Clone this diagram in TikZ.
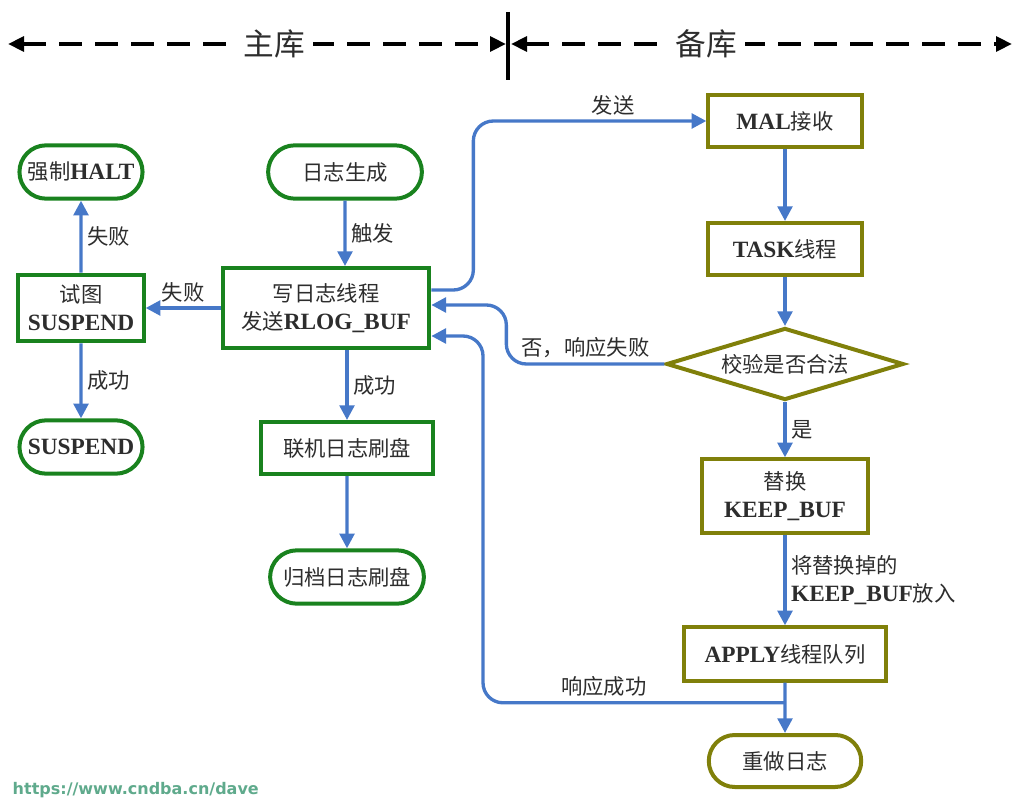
\documentclass[tikz,border=0pt]{standalone}
\usepackage{fontspec}
\setmainfont{Noto Sans CJK SC}
\newfontfamily\latinfont{Liberation Serif}
\newfontfamily\urlfont{DejaVu Sans}
\newcommand{\en}[1]{{\latinfont\bfseries\fontsize{17.5}{21}\selectfont #1}}
\usetikzlibrary{arrows.meta, shapes.geometric, shapes.misc, calc}
\definecolor{boxgreen}{RGB}{25,130,30}
\definecolor{boxolive}{RGB}{128,128,10}
\definecolor{flowblue}{RGB}{70,120,200}
\definecolor{textgray}{RGB}{45,45,45}
\definecolor{urlgreen}{RGB}{95,170,140}
\tikzset{
    every node/.style={text=textgray, font=\fontsize{16}{21}\selectfont, align=center}, % default text
    boxg/.style={draw=boxgreen, line width=3pt, minimum height=39pt}, % green rectangle
    pillg/.style={rounded rectangle, draw=boxgreen, line width=3pt, minimum width=99pt, minimum height=40pt}, % green terminal
    boxo/.style={draw=boxolive, line width=3pt, minimum width=115pt, minimum height=39pt}, % olive rectangle
    pillo/.style={rounded rectangle, draw=boxolive, line width=3pt, minimum width=121pt, minimum height=39pt}, % olive terminal
    diao/.style={diamond, draw=boxolive, line width=3pt, aspect=3.3, inner sep=0pt, minimum width=178pt, minimum height=54pt}, % test
    flow/.style={draw=flowblue, line width=2.5pt, -{Triangle[length=11pt, width=11pt]}}, % blue connectors
    sidearrow/.style={black, line width=3pt, dash pattern=on 17pt off 10pt, {Triangle[length=12pt, width=11pt]}-{Triangle[length=12pt, width=11pt]}}, % header arrows
    sidelbl/.style={fill=white, inner xsep=6pt, font=\fontsize{23}{26}\selectfont}, % header text
}

\begin{document}
\begin{tikzpicture}[x=0.75pt, y=-0.75pt]
    \useasboundingbox (0,0) rectangle (1021,806);
    % header
    \coordinate (hl) at (8,44);
    \coordinate (hml) at (506,44);
    \coordinate (hmr) at (511,44);
    \coordinate (hr) at (1012,44);
    \coordinate (dtop) at (508,12);
    \coordinate (dbot) at (508,80);
    \draw[black, line width=3pt] (dtop) -- (dbot);
    \draw[sidearrow] (hl) -- node[sidelbl, pos=0.535]{主库} (hml);
    \draw[sidearrow] (hmr) -- node[sidelbl, pos=0.39]{备库} (hr);
    % primary side
    \node[pillg] (halt) at (81,172) {强制\en{HALT}};
    \node[boxg, minimum width=94pt, minimum height=50pt] (try) at (81,308) {试图\\\en{SUSPEND}};
    \node[pillg] (susp) at (81,447) {\en{SUSPEND}};
    \node[pillg, minimum width=122pt] (gen) at (345,172) {日志生成};
    \node[boxg, minimum width=155pt, minimum height=60pt] (write) at (326,308) {写日志线程\\发送\en{RLOG\_BUF}};
    \node[boxg, minimum width=129pt] (online) at (347,448) {联机日志刷盘};
    \node[pillg, minimum width=122pt] (arch) at (347,577) {归档日志刷盘};
    % standby side
    \node[boxo] (mal) at (785,121) {\en{MAL}接收};
    \node[boxo] (task) at (785,249) {\en{TASK}线程};
    \node[diao] (check) at (785,364) {校验是否合法};
    \node[boxo, minimum width=124pt, minimum height=55pt] (swap) at (785,496) {替换\\\en{KEEP\_BUF}};
    \node[boxo, minimum width=152pt, minimum height=40pt] (apply) at (785,654) {\en{APPLY}线程队列};
    \node[pillo] (redo) at (785,761) {重做日志};
    \coordinate (join) at ($(apply.south)!0.4!(redo.north)$);
    % connectors
    \draw[flow] (gen) -- (gen |- write.north) node[midway, right] {触发};
    \draw[flow] (write) -- (try) node[midway, above] {失败};
    \draw[flow] (try) -- (halt) node[midway, right] {失败};
    \draw[flow] (try) -- (susp) node[midway, right] {成功};
    \draw[flow] (online |- write.south) -- (online) node[midway, right] {成功};
    \draw[flow] (online) -- (arch);
    \draw[flow, rounded corners=15pt] ([yshift=13.5pt]write.east) -| ($(mal.west)+(-233,0)$) -- node[pos=0.6, above] {发送} (mal.west);
    \draw[flow] (mal) -- (task);
    \draw[flow] (task) -- (check);
    \draw[flow, rounded corners=15pt] (check.west) -- node[above] {否，响应失败} ++(-158,0) |- ([yshift=2.25pt]write.east);
    \draw[flow] (check) -- (swap) node[midway, right] {是};
    \draw[flow] (swap) -- (apply) node[midway, right, align=left] {将替换掉的\\\en{KEEP\_BUF}放入};
    \draw[flow] (apply) -- (redo);
    \draw[flow, rounded corners=15pt] (join) -- node[pos=0.6, above] {响应成功} ++(-302,0) |- ([yshift=-21pt]write.east);
    % watermark
    \node[anchor=west, text=urlgreen, font=\urlfont\bfseries\fontsize{12}{14}\selectfont] (url) at (8,790) {https://www.cndba.cn/dave};
\end{tikzpicture}
\end{document}
